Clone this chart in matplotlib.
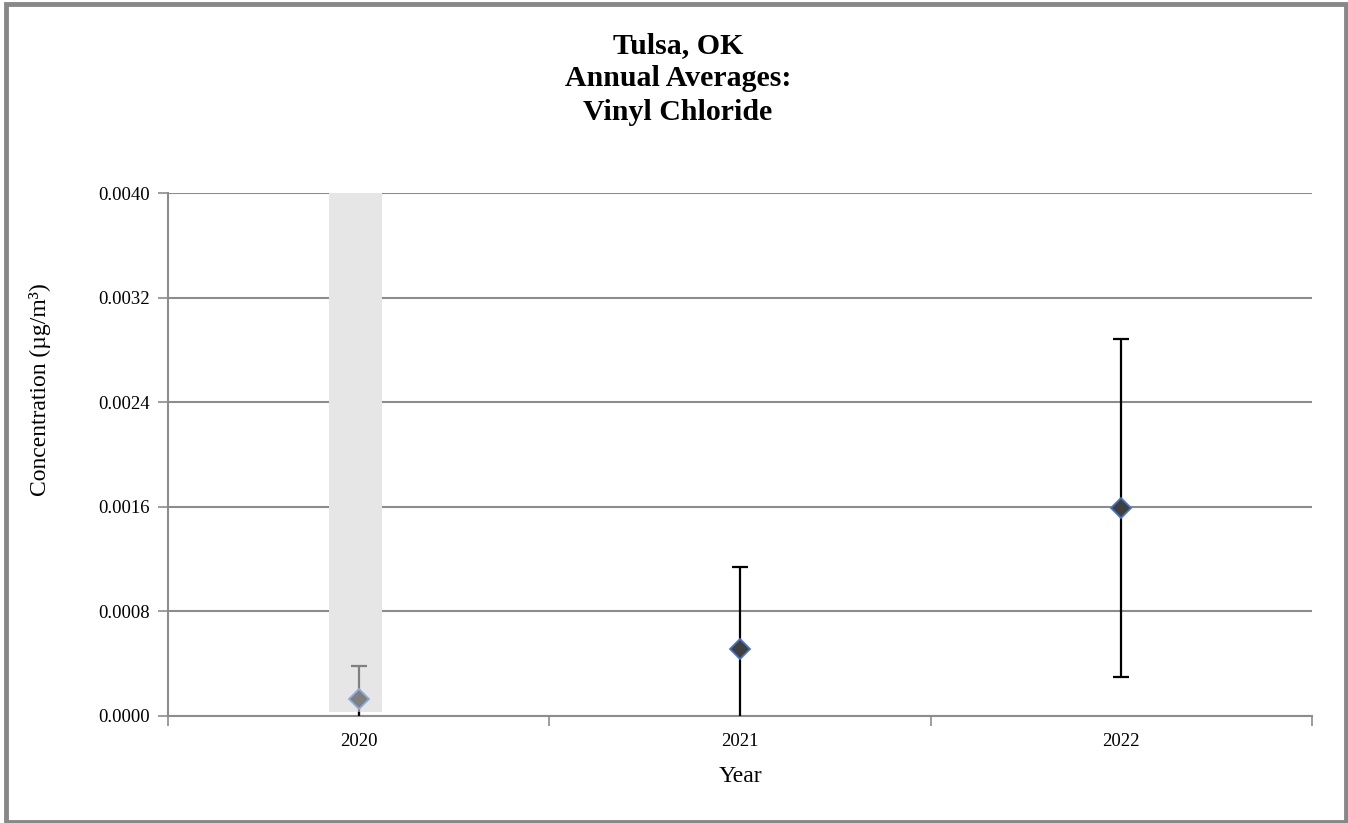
import matplotlib
matplotlib.use("Agg")
import matplotlib.pyplot as plt
from matplotlib.patches import Rectangle
import numpy as np

# ---- data ----
years = ["2020", "2021", "2022"]
averages = [0.00013, 0.00051, 0.00159]
conf_int = [0.00025, 0.00063, 0.00129]
incomplete = [True, False, False]   # shaded year
y_ticks = [0.0, 0.0008, 0.0016, 0.0024, 0.0032, 0.0040]
band_bottom = 0.00003
band_top = 0.0040

plt.rcParams["font.family"] = ["Liberation Serif", "DejaVu Serif"]

W, H = 1348, 823
fig = plt.figure(figsize=(W / 100, H / 100), dpi=100)
fig.patch.set_facecolor("white")

# outer border
fig.patches.append(Rectangle((6 / W, 1 - 822 / H), 1340 / W, 818 / H,
                             transform=fig.transFigure, fill=False,
                             edgecolor="#888888", linewidth=3.5))

ax = fig.add_axes([168 / W, 1 - 716 / H, (1312 - 168) / W, (716 - 193) / H])
x = np.arange(len(years))

# shaded band for incomplete year
for xi, inc in zip(x, incomplete):
    if inc:
        ax.bar(xi - 0.008, band_top - band_bottom, bottom=band_bottom, width=0.137,
               color="#E6E6E6", zorder=1)

for xi, avg, ci, inc in zip(x, averages, conf_int, incomplete):
    ecol = "#808080" if inc else "black"
    fcol = "#7F7F7F" if inc else "#404040"
    mec = "#8FAADC" if inc else "#4472C4"
    ax.errorbar(xi, avg, yerr=ci, fmt="none", ecolor=ecol, elinewidth=1.6,
                capsize=6, capthick=1.6, zorder=3)
    ax.plot(xi, avg, marker="D", markersize=10, markerfacecolor=fcol,
            markeredgecolor=mec, markeredgewidth=1.3, linestyle="none", zorder=4)
    if inc:
        # visible black stub below the band down to the axis
        ax.plot([xi, xi], [0, band_bottom], color="black", linewidth=1.6,
                zorder=3, solid_capstyle="butt")

ax.set_xlim(-0.5, len(years) - 0.5)
ax.set_ylim(0, 0.0040)
ax.set_yticks(y_ticks)
ax.set_yticklabels([f"{v:.4f}" for v in y_ticks])
ax.yaxis.grid(True, color="#8C8C8C", linewidth=1.5, zorder=0)
ax.set_axisbelow(True)

ax.set_xticks(x)
ax.set_xticklabels(years)
ax.set_xticks(np.arange(-0.5, len(years)), minor=True)
ax.tick_params(axis="x", which="major", length=0, labelsize=13.5, pad=12)
ax.tick_params(axis="x", which="minor", length=7, width=1.2, color="#8C8C8C",
               direction="out")
ax.tick_params(axis="y", length=7, width=1.2, color="#8C8C8C", labelsize=13.5,
               pad=6, direction="out")

for s in ["top", "right"]:
    ax.spines[s].set_visible(False)
for s in ["left", "bottom"]:
    ax.spines[s].set_color("#8C8C8C")
    ax.spines[s].set_linewidth(1.5)

ax.set_xlabel("Year", fontsize=17, labelpad=12)
ax.set_ylabel("Concentration (µg/m³)", fontsize=17)
ax.yaxis.set_label_coords(-0.102, (716 - 390) / 523)

fig.text(678 / W, 1 - 32 / H, "Tulsa, OK\nAnnual Averages:\nVinyl Chloride",
         ha="center", va="top", fontsize=21.5, fontweight="bold", linespacing=1.3)

fig.savefig("out.png", dpi=100)
